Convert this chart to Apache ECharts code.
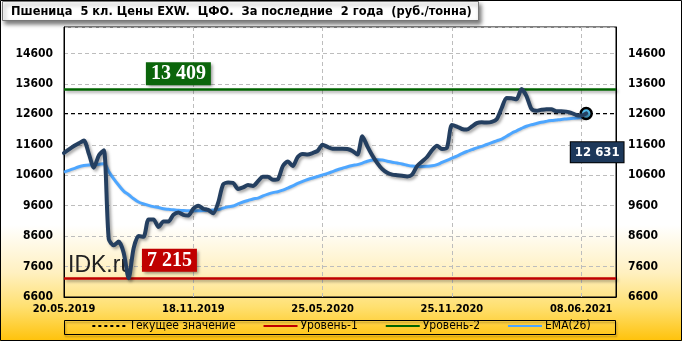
<!DOCTYPE html>
<html><head><meta charset="utf-8">
<script src="https://cdn.jsdelivr.net/npm/echarts@6/dist/echarts.min.js"></script>
<style>html,body{margin:0;padding:0;background:#fff}#c{width:682px;height:341px}</style>
</head><body><div id="c"></div>
<script>
const titleText = 'Пшеница  5 кл. Цены EXW.  ЦФО.  За последние  2 года  (руб./тонна)';
const xTickLabels = ['20.05.2019', '18.11.2019', '25.05.2020', '25.11.2020', '08.06.2021'];
const ticksEvery = 26;
const categoryCount = 112;
const categories = [];
for (let i = 0; i < categoryCount; i++) categories.push(i % ticksEvery === 0 && xTickLabels[i / ticksEvery] ? xTickLabels[i / ticksEvery] : '');

const yMin = 6600, yMax = 15470, yStep = 1000;

const price = [
  11330, 11450, 11560, 11650, 11740, 11300, 10850, 11250, 11420, 8500,
  8300, 8420, 8050, 7215, 8200, 8600, 8580, 9150, 9150, 8900,
  9080, 9080, 9300, 9380, 9300, 9280, 9500, 9600, 9500, 9460,
  9355, 9700, 10300, 10360, 10350, 10150, 10200, 10280, 10250, 10400,
  10550, 10550, 10450, 10470, 10900, 11050, 10900, 11200, 11300, 11280,
  11330, 11400, 11600, 11530, 11470, 11470, 11470, 11460, 11400, 11280,
  11880, 11550, 11250, 11000, 10800, 10680, 10620, 10600, 10580, 10560,
  10620, 10900, 11050, 11200, 11420, 11570, 11460, 11500, 12250, 12200,
  12120, 12100, 12200, 12310, 12340, 12330, 12350, 12440, 12800, 13140,
  13130, 13100, 13430, 13200, 12780, 12720, 12750, 12770, 12770, 12700,
  12700, 12690, 12650, 12580, 12560, 12631
];
const ema = [
  10700, 10760, 10820, 10880, 10920, 10940, 10945, 10960, 10975, 10720,
  10480, 10270, 10080, 9960, 9830, 9720, 9660, 9610, 9570, 9540,
  9500, 9480, 9465, 9450, 9440, 9435, 9430, 9435, 9440, 9445,
  9455, 9470, 9520, 9560, 9590, 9660, 9720, 9770, 9820, 9850,
  9920, 9980, 10030, 10060, 10110, 10180, 10250, 10330, 10400, 10460,
  10510, 10560, 10610, 10660, 10720, 10780, 10830, 10880, 10920, 10950,
  11000, 11060, 11100, 11110, 11100, 11060, 11030, 11000, 10970, 10930,
  10900, 10890, 10890, 10895, 10910, 10950, 11020, 11090, 11160, 11230,
  11310, 11380, 11440, 11500, 11550, 11610, 11670, 11730, 11790, 11880,
  11980, 12060, 12140, 12210, 12260, 12300, 12340, 12370, 12395, 12415,
  12435, 12450, 12465, 12480, 12500, 12515
];
const level1 = 7215;
const level2 = 13409;
const currentValue = 12631;
const level1LabelAt = 21;
const level2LabelAt = 23;

function fmt(n) { return String(n).replace(/\B(?=(\d{3})+(?!\d))/g, ' '); }

const chart = echarts.init(document.getElementById('c'), null, { renderer: 'canvas' });
const axisFont = 'DejaVu Sans Condensed';
const shadow = { shadowColor: 'rgba(0,0,0,0.35)', shadowBlur: 3, shadowOffsetX: 2, shadowOffsetY: 2 };

chart.setOption({
  animation: false,
  graphic: [
    { type: 'rect', z: -100, silent: true, shape: { x: 0, y: 0, width: 682, height: 341 },
      style: { fill: new echarts.graphic.LinearGradient(0, 0, 0, 1, [
        { offset: 0, color: '#ffffff' }, { offset: 0.66, color: '#ffffff' },
        { offset: 0.8, color: '#fff0c0' }, { offset: 0.9, color: '#ffe070' }, { offset: 1, color: '#ffc20a' }]) } },
    { type: 'rect', z: 100, silent: true, shape: { x: 0.5, y: 0.5, width: 681, height: 340 },
      style: { fill: 'none', stroke: '#000', lineWidth: 1 } },
    { type: 'rect', z: 50, silent: true, shape: { x: 2.5, y: 1.5, width: 476, height: 19 },
      style: { fill: '#fff', stroke: '#777', lineWidth: 1, shadowColor: 'rgba(0,0,0,0.5)', shadowBlur: 4, shadowOffsetX: 2, shadowOffsetY: 3 } },
    { type: 'text', z: 51, silent: true,
      style: { x: 11, y: 12, text: titleText, verticalAlign: 'middle', fill: '#000', font: 'bold 12.7px "DejaVu Sans Condensed"' } },
    { type: 'rect', z: 50, silent: true, shape: { x: 64.5, y: 320.5, width: 551, height: 14 },
      style: { fill: 'rgba(0,0,0,0)', stroke: '#000', lineWidth: 1, shadowColor: 'rgba(0,0,0,0.3)', shadowBlur: 2, shadowOffsetX: 1, shadowOffsetY: 2 } },
    { type: 'text', z: 1, silent: true,
      style: { x: 68, y: 266, text: 'IDK.ru', verticalAlign: 'middle', fill: '#222', font: '23px "Liberation Sans"' } }
  ],
  grid: { left: 64, right: 66, top: 27, bottom: 44, show: true, borderColor: '#000', borderWidth: 1, backgroundColor: 'transparent' },
  legend: {
    data: ['Текущее значение', 'Уровень-1', 'Уровень-2', 'EMA(26)'],
    left: 'center', top: 320, itemWidth: 34, itemHeight: 14, itemGap: 27,
    padding: 0,
    itemStyle: { opacity: 0, borderWidth: 0 },
    textStyle: { fontFamily: axisFont, fontSize: 12, color: '#000', padding: [0, 0, 0, -2] }
  },
  xAxis: {
    type: 'category', data: categories, boundaryGap: false,
    axisLine: { show: true, lineStyle: { color: '#000', width: 1 } },
    axisTick: { show: false },
    axisLabel: { interval: ticksEvery - 1, margin: 7, color: '#000', fontFamily: axisFont, fontWeight: 'bold', fontSize: 11 },
    splitLine: { show: true, interval: ticksEvery - 1, lineStyle: { color: '#bdbdbd', type: [4, 3], width: 1 } }
  },
  yAxis: [
    { type: 'value', min: yMin, max: yMax, interval: yStep, position: 'left',
      axisLine: { show: true, lineStyle: { color: '#000' } }, axisTick: { show: false },
      axisLabel: { showMaxLabel: false, margin: 11, formatter: v => String(v), color: '#000', fontFamily: axisFont, fontWeight: 'bold', fontSize: 12 },
      splitLine: { show: true, lineStyle: { color: '#bdbdbd', type: [4, 3], width: 1 } } },
    { type: 'value', min: yMin, max: yMax, interval: yStep, position: 'right',
      axisLine: { show: true, lineStyle: { color: '#000' } }, axisTick: { show: false },
      axisLabel: { showMaxLabel: false, margin: 12, formatter: v => String(v), color: '#000', fontFamily: axisFont, fontWeight: 'bold', fontSize: 12 },
      splitLine: { show: false } }
  ],
  series: [
    { name: 'Текущее значение', type: 'line', data: [], symbol: 'none', color: '#000', z: 2,
      lineStyle: { color: '#000', width: 1, type: [3, 3] },
      markLine: { silent: true, symbol: 'none', label: { show: false },
        lineStyle: { color: '#000', width: 1, type: [4, 3] }, data: [{ yAxis: currentValue }] } },
    { name: 'Уровень-1', type: 'line', data: [], symbol: 'none', color: '#c00000', z: 3,
      lineStyle: { color: '#c00000', width: 2.5 },
      markLine: { silent: true, symbol: 'none', label: { show: false },
        lineStyle: Object.assign({ color: '#c00000', width: 2.5, type: 'solid' }, shadow), data: [{ yAxis: level1 }] },
      markPoint: { silent: true, symbol: 'rect', symbolSize: 1, itemStyle: { color: 'rgba(0,0,0,0)' },
        data: [{ coord: [level1LabelAt, level1], value: level1 }],
        label: { show: true, position: 'top', distance: 6, offset: [1, 0], formatter: p => fmt(p.value),
          color: '#fff', fontFamily: 'Liberation Serif', fontWeight: 'bold', fontSize: 20, lineHeight: 22,
          backgroundColor: '#c00000', padding: [1, 5, 0, 5],
          shadowColor: 'rgba(0,0,0,0.4)', shadowBlur: 3, shadowOffsetX: 2, shadowOffsetY: 2 } } },
    { name: 'Уровень-2', type: 'line', data: [], symbol: 'none', color: '#006400', z: 3,
      lineStyle: { color: '#006400', width: 2.5 },
      markLine: { silent: true, symbol: 'none', label: { show: false },
        lineStyle: Object.assign({ color: '#006400', width: 2.5, type: 'solid' }, shadow), data: [{ yAxis: level2 }] },
      markPoint: { silent: true, symbol: 'rect', symbolSize: 1, itemStyle: { color: 'rgba(0,0,0,0)' },
        data: [{ coord: [level2LabelAt, level2], value: level2 }],
        label: { show: true, position: 'top', distance: 4, formatter: p => fmt(p.value),
          color: '#fff', fontFamily: 'Liberation Serif', fontWeight: 'bold', fontSize: 20, lineHeight: 22,
          backgroundColor: '#0b650b', padding: [1, 5, 0, 5],
          shadowColor: 'rgba(0,0,0,0.4)', shadowBlur: 3, shadowOffsetX: 2, shadowOffsetY: 2 } } },
    { name: 'EMA(26)', type: 'line', data: ema, symbol: 'none', smooth: 0.4, color: '#4da6ff', z: 4,
      lineStyle: { color: '#4da6ff', width: 3, shadowColor: 'rgba(0,0,0,0.2)', shadowBlur: 2, shadowOffsetX: 1, shadowOffsetY: 1 } },
    { name: 'Цена', type: 'line', data: price, symbol: 'none', smooth: 0.25, color: '#243f60', z: 5,
      lineStyle: Object.assign({ color: '#243f60', width: 4, join: 'round', cap: 'round' }, shadow),
      markPoint: { silent: true, symbol: 'circle', symbolSize: 11,
        itemStyle: { color: '#4fb8e8', borderColor: '#000', borderWidth: 2.5 },
        data: [{ coord: [price.length - 1, currentValue], value: currentValue }],
        label: { show: true, position: 'bottom', distance: 22, offset: [11, 0], formatter: p => fmt(p.value),
          color: '#fff', fontFamily: axisFont, fontWeight: 'bold', fontSize: 13, lineHeight: 18,
          backgroundColor: '#1d385a', borderColor: '#000', borderWidth: 1, padding: [1, 4, 1, 4] } } }
  ]
});
</script></body></html>
